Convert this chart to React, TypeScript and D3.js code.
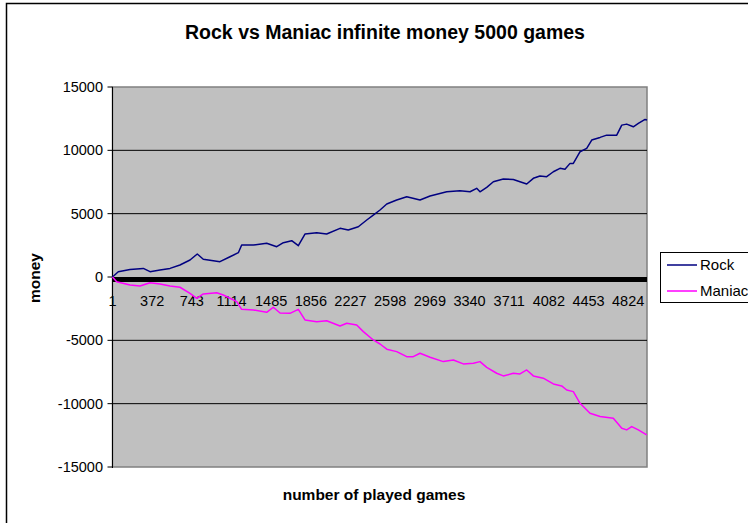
import React from "react";
import * as d3 from "d3";

const title = "Rock vs Maniac infinite money 5000 games";
const xTitle = "number of played games";
const yTitle = "money";
const seriesNames = ["Rock", "Maniac"];
const seriesColors = ["#000080", "#FF00FF"];

const totalGames = 5000;
const xTickLabels = [1, 372, 743, 1114, 1485, 1856, 2227, 2598, 2969, 3340, 3711, 4082, 4453, 4824];
const yTicks = [15000, 10000, 5000, 0, -5000, -10000, -15000];

const rockGames = [1, 55, 165, 289, 352, 445, 539, 632, 726, 794, 850, 1006, 1100, 1178, 1209, 1318, 1443, 1537, 1599, 1677, 1739, 1801, 1911, 2004, 2129, 2206, 2300, 2379, 2440, 2503, 2566, 2659, 2753, 2877, 2971, 3127, 3251, 3345, 3407, 3438, 3501, 3563, 3656, 3750, 3812, 3875, 3937, 3999, 4062, 4124, 4186, 4233, 4280, 4311, 4374, 4436, 4483, 4561, 4623, 4717, 4764, 4810, 4872, 4919, 4982, 5000];
const rockValues = [0, 420, 600, 680, 420, 550, 680, 950, 1340, 1815, 1400, 1210, 1600, 1920, 2525, 2525, 2660, 2390, 2710, 2870, 2470, 3390, 3500, 3390, 3840, 3710, 3970, 4500, 4890, 5290, 5760, 6075, 6340, 6075, 6390, 6730, 6810, 6730, 7000, 6730, 7080, 7520, 7730, 7700, 7520, 7340, 7790, 7970, 7920, 8310, 8580, 8500, 8970, 8970, 9890, 10150, 10810, 11020, 11200, 11200, 11990, 12070, 11860, 12120, 12440, 12400];

const maniacGames = [1, 40, 165, 258, 352, 445, 539, 632, 726, 789, 850, 976, 1037, 1100, 1163, 1209, 1318, 1443, 1505, 1568, 1661, 1739, 1801, 1911, 2004, 2129, 2192, 2285, 2347, 2440, 2503, 2566, 2659, 2753, 2814, 2877, 2971, 3095, 3189, 3282, 3376, 3438, 3501, 3594, 3656, 3750, 3812, 3875, 3937, 4030, 4124, 4202, 4249, 4311, 4374, 4467, 4561, 4685, 4764, 4810, 4857, 4919, 4997];
const maniacValues = [0, -370, -630, -710, -450, -550, -710, -810, -1290, -1680, -1340, -1240, -1420, -1680, -1950, -2550, -2600, -2790, -2390, -2840, -2870, -2550, -3390, -3530, -3450, -3870, -3650, -3790, -4310, -4970, -5290, -5700, -5890, -6290, -6290, -6020, -6340, -6680, -6550, -6860, -6810, -6680, -7130, -7600, -7810, -7600, -7650, -7340, -7810, -7990, -8440, -8600, -8920, -9050, -9970, -10760, -11020, -11150, -11940, -12070, -11810, -12070, -12470];

const W = 748;
const H = 523;
const plot = { left: 112.5, right: 647, top: 87, bottom: 467 };
const font = "'Liberation Sans', Arial, sans-serif";

export default function App() {
  const x = d3.scaleLinear().domain([1, totalGames]).range([plot.left, plot.right]);
  const y = d3.scaleLinear().domain([-15000, 15000]).range([plot.bottom, plot.top]);

  const line = d3
    .line<[number, number]>()
    .x((d) => x(d[0]))
    .y((d) => y(d[1]));

  const rockData: [number, number][] = rockGames.map((g, i) => [g, rockValues[i]]);
  const maniacData: [number, number][] = maniacGames.map((g, i) => [g, maniacValues[i]]);
  const series = [rockData, maniacData];

  const legendX = 660;
  const legendY = 252;

  return (
    <svg
      width={W}
      height={H}
      style={{ position: "absolute", left: 0, top: 0, background: "#fff" }}
      fontFamily={font}
    >
      <rect x={6.5} y={3.5} width={W + 20} height={H + 20} fill="#fff" stroke="#000" strokeWidth={1.5} />
      <text x={385} y={39} textAnchor="middle" fontSize={19.5} fontWeight="bold" fill="#000">
        {title}
      </text>

      <rect
        x={plot.left}
        y={plot.top}
        width={plot.right - plot.left}
        height={plot.bottom - plot.top}
        fill="#C0C0C0"
        stroke="#808080"
        strokeWidth={1.5}
      />

      {yTicks
        .filter((t) => t !== 15000 && t !== -15000 && t !== 0)
        .map((t) => (
          <line key={"g" + t} x1={plot.left} x2={plot.right} y1={y(t)} y2={y(t)} stroke="#000" strokeWidth={1} />
        ))}

      <line x1={plot.left} x2={plot.left} y1={plot.top} y2={plot.bottom + 1} stroke="#000" strokeWidth={1} />
      {yTicks.map((t) => (
        <g key={"t" + t}>
          <line x1={plot.left - 5} x2={plot.left} y1={y(t)} y2={y(t)} stroke="#000" strokeWidth={1} />
          <text x={103} y={y(t)} dy="0.35em" textAnchor="end" fontSize={14.5} fill="#000">
            {t}
          </text>
        </g>
      ))}

      <line x1={plot.left} x2={plot.right} y1={y(0) + 2.5} y2={y(0) + 2.5} stroke="#000" strokeWidth={5} />

      {xTickLabels.map((t) => (
        <text key={"x" + t} x={x(t)} y={300.5} dy="0.35em" textAnchor="middle" fontSize={14.5} fill="#000">
          {t}
        </text>
      ))}

      {series.map((d, i) => (
        <path key={i} d={line(d) || ""} fill="none" stroke={seriesColors[i]} strokeWidth={1.5} strokeLinejoin="round" />
      ))}

      <text
        transform={`translate(${35},${278}) rotate(-90)`}
        textAnchor="middle"
        dy="0.35em"
        fontSize={15.5}
        fontWeight="bold"
        fill="#000"
      >
        {yTitle}
      </text>
      <text x={374} y={495} dy="0.35em" textAnchor="middle" fontSize={15.5} fontWeight="bold" fill="#000">
        {xTitle}
      </text>

      <rect x={legendX + 0.5} y={legendY + 0.5} width={120} height={50} fill="#fff" stroke="#000" strokeWidth={1} />
      {seriesNames.map((n, i) => (
        <g key={n}>
          <line
            x1={legendX + 7}
            x2={legendX + 37}
            y1={legendY + 13 + i * 26}
            y2={legendY + 13 + i * 26}
            stroke={seriesColors[i]}
            strokeWidth={1.5}
          />
          <text x={legendX + 40} y={legendY + 13 + i * 26} dy="0.35em" fontSize={15} fill="#000">
            {n}
          </text>
        </g>
      ))}
    </svg>
  );
}
